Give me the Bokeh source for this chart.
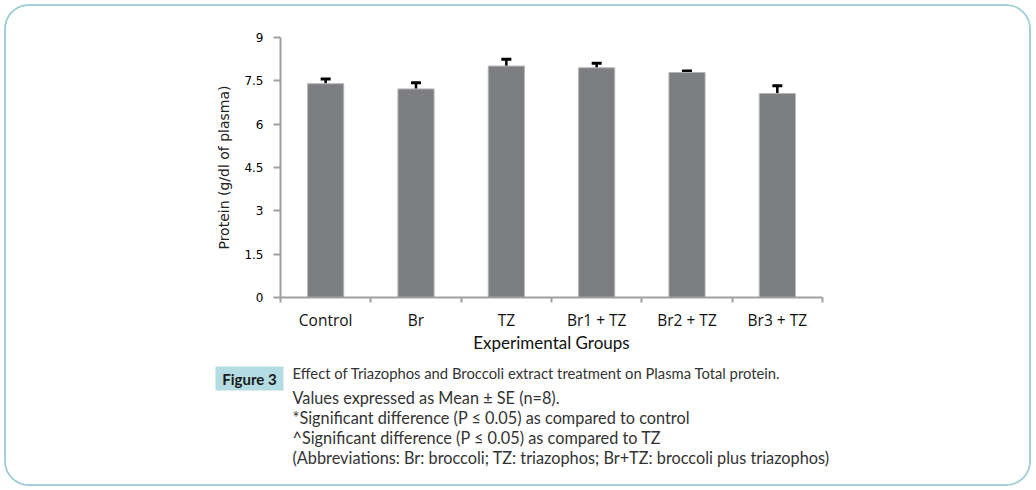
from bokeh.plotting import figure
from bokeh.layouts import column
from bokeh.models import (FixedTicker, BoxAnnotation, Range1d, ColumnDataSource,
                          Whisker, TeeHead)
from bokeh.core.properties import value
from bokeh.embed import file_html
from bokeh.resources import INLINE

groups = ["Control", "Br", "TZ", "Br1 + TZ", "Br2 + TZ", "Br3 + TZ"]
means = [7.40, 7.22, 8.01, 7.95, 7.79, 7.06]
se = [0.16, 0.21, 0.24, 0.16, 0.05, 0.27]
y_ticks = [0, 1.5, 3, 4.5, 6, 7.5, 9]
y_label = "Protein (g/dl of plasma)"
x_label = "Experimental Groups"
fig_tag = "Figure 3"
caption_title = "Effect of Triazophos and Broccoli extract treatment on Plasma Total protein."
caption_notes = [
    "Values expressed as Mean \u00b1 SE (n=8).",
    "*Significant difference (P \u2264 0.05) as compared to control",
    "^Significant difference (P \u2264 0.05) as compared to TZ",
    "(Abbreviations: Br: broccoli; TZ: triazophos; Br+TZ: broccoli plus triazophos)",
]

# page geometry (content box inside the rounded border)
X0, Y0 = 6, 6          # top-left of content
CW = 1023              # content width
CH1 = 356              # chart figure height
CH2 = 122              # caption figure height

xpos = [i + 0.5 for i in range(len(groups))]
src = ColumnDataSource(dict(
    x=xpos, top=means,
    upper=[m + s for m, s in zip(means, se)],
    lower=means,
))

p = figure(width=CW, height=CH1, output_backend="svg", toolbar_location=None,
           x_range=Range1d(0, len(groups)), y_range=Range1d(0, 9),
           min_border_left=280 - X0, min_border_right=(X0 + CW) - 822,
           min_border_top=37 - Y0, min_border_bottom=(Y0 + CH1) - 297)
p.frame_align = False
p.background_fill_color = "white"
p.border_fill_color = "white"
p.outline_line_color = None
p.grid.visible = False

p.vbar(x="x", top="top", width=0.4, source=src,
       fill_color="#7d7e82", line_color="#b4b4b4", line_width=1)

wh = Whisker(base="x", upper="upper", lower="lower", source=src,
             line_color="black", line_width=2.5,
             upper_head=TeeHead(size=10, line_color="black", line_width=3),
             lower_head=None)
p.add_layout(wh)

xa = p.xaxis[0]
xa.ticker = FixedTicker(ticks=xpos, minor_ticks=list(range(len(groups) + 1)))
xa.major_label_overrides = {x: g for x, g in zip(xpos, groups)}
xa.major_tick_out = 0
xa.major_tick_in = 0
xa.minor_tick_out = 5
xa.minor_tick_in = 0
xa.minor_tick_line_color = "#a0a0a0"
xa.minor_tick_line_width = 2
xa.axis_line_color = "#a0a0a0"
xa.axis_line_width = 2
xa.major_label_standoff = 6
xa.major_label_text_font = "Open Sans"
xa.major_label_text_font_size = "15.5px"
xa.major_label_text_color = "#111111"
xa.axis_label = x_label
xa.axis_label_text_font = "Lato"
xa.axis_label_text_font_size = "17px"
xa.axis_label_text_font_style = "normal"
xa.axis_label_text_color = "#111111"
xa.axis_label_standoff = -2

ya = p.yaxis[0]
ya.ticker = FixedTicker(ticks=y_ticks)
ya.major_label_overrides = {0: "0", 1.5: "1.5", 3: "3", 4.5: "4.5", 6: "6", 7.5: "7.5", 9: "9"}
ya.major_tick_out = 7
ya.major_tick_in = 0
ya.minor_tick_out = 0
ya.minor_tick_in = 0
ya.major_tick_line_color = "#a0a0a0"
ya.major_tick_line_width = 2
ya.axis_line_color = "#a0a0a0"
ya.axis_line_width = 2
ya.major_label_standoff = 10
ya.major_label_text_font = "DejaVu Sans"
ya.major_label_text_font_size = "12px"
ya.major_label_text_color = "#000000"
ya.axis_label = y_label
ya.axis_label_text_font = "DejaVu Sans"
ya.axis_label_text_font_size = "14px"
ya.axis_label_text_font_style = "normal"
ya.axis_label_text_color = "#222222"
ya.axis_label_standoff = 9

# caption figure: data coordinates equal page pixels
top2 = Y0 + CH1
c = figure(width=CW, height=CH2, output_backend="svg", toolbar_location=None,
           x_range=Range1d(X0, X0 + CW), y_range=Range1d(top2 + CH2, top2),
           min_border=0, x_axis_location=None, y_axis_location=None)
c.frame_align = False
c.outline_line_color = None
c.grid.visible = False
c.background_fill_color = "white"
c.border_fill_color = "white"

c.add_layout(BoxAnnotation(left=215, right=283, top=366, bottom=390,
                           fill_color="#b3dce3", fill_alpha=1, line_color=None,
                           level="underlay"))
c.text(x=[249], y=[378], text=[fig_tag], text_font=value("Lato"), text_font_style="bold",
       text_font_size="15px", text_color="#1a1a1a", text_align="center",
       text_baseline="middle")

c.text(x=[292], y=[372], text=[caption_title],
       text_font=value("Lato"), text_font_size="14.8px", text_color="#333333",
       text_align="left", text_baseline="middle")
note_y = [397, 417, 437, 457]
c.text(x=[292] * len(caption_notes), y=note_y, text=caption_notes,
       text_font=value("Lato"), text_font_size="16.3px", text_color="#333333",
       text_align="left", text_baseline="middle")

layout = column(p, c, spacing=0, margin=(4, 0, 0, 4),
                styles={"border": "2px solid #a3cfd6", "border-radius": "25px",
                        "overflow": "hidden", "background": "white"})

open("out.html", "w").write(file_html(layout, INLINE))
